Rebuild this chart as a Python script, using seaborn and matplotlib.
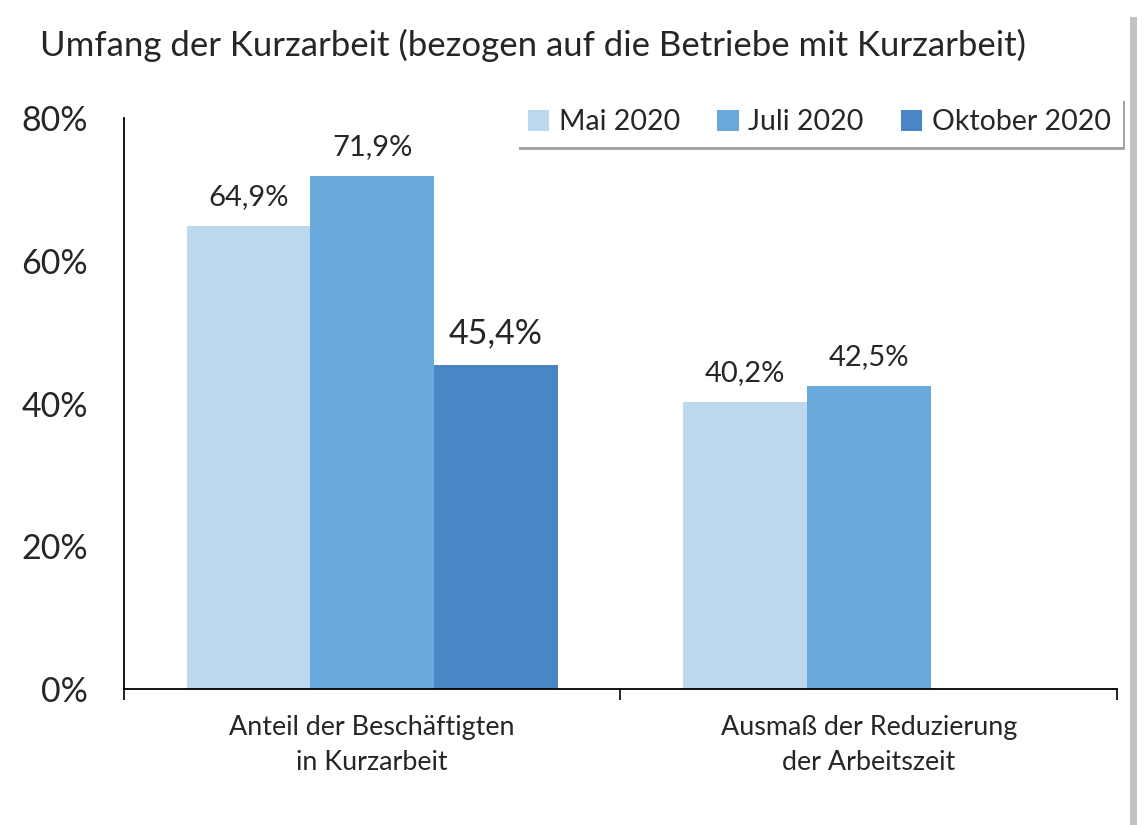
import numpy as np
import pandas as pd
import matplotlib
matplotlib.use("Agg")
import matplotlib.pyplot as plt
import seaborn as sns
from matplotlib.patches import Rectangle

# Data
categories = ["Anteil der Beschäftigten\nin Kurzarbeit", "Ausmaß der Reduzierung\nder Arbeitszeit"]
periods = ["Mai 2020", "Juli 2020", "Oktober 2020"]
mai_values = [64.9, 40.2]
juli_values = [71.9, 42.5]
oktober_values = [45.4, np.nan]
y_ticks = [0, 20, 40, 60, 80]
y_tick_labels = ["0%", "20%", "40%", "60%", "80%"]

colors = ["#BDD7EE", "#69A9DB", "#4A86C5"]

df = pd.DataFrame({
    "category": categories * 3,
    "period": [p for p in periods for _ in categories],
    "value": mai_values + juli_values + oktober_values,
})

sns.set_theme(style="white")
plt.rcParams["font.family"] = ["Lato", "DejaVu Sans"]

fig = plt.figure(figsize=(11.45, 8.25), dpi=100)
ax = fig.add_axes([0.1083, 0.1648, 0.8672, 0.6922])

sns.barplot(data=df, x="category", y="value", hue="period", hue_order=periods,
            palette=colors, width=0.747, saturation=1, linewidth=0, ax=ax, legend=True)

ax.set_ylim(0, 80)
ax.set_xlim(-0.5, 1.5)
ax.set_yticks(y_ticks)
ax.set_yticklabels(y_tick_labels, fontsize=24.5)
ax.set_xlabel("")
ax.set_ylabel("")
ax.tick_params(axis="y", length=0, pad=26)

# category boundary ticks on x axis
ax.set_xticks([-0.5, 0.5, 1.5])
ax.set_xticklabels([])
ax.tick_params(axis="x", direction="out", length=8, width=1.2, color="black", bottom=True)
for i, cat in enumerate(categories):
    ax.text(i, -3.6, cat, ha="center", va="top", fontsize=19.4, linespacing=1.5,
            transform=ax.transData)

sns.despine(ax=ax, top=True, right=True)
ax.spines["left"].set_color("black")
ax.spines["bottom"].set_color("black")
ax.spines["left"].set_linewidth(1.3)
ax.spines["bottom"].set_linewidth(1.3)

# value labels
for container in ax.containers:
    for bar in container:
        h = bar.get_height()
        if np.isnan(h):
            continue
        size = 24.5 if h == 45.4 else 21
        ax.text(bar.get_x() + bar.get_width() / 2, h + 2.2, f"{h:.1f}%".replace(".", ","),
                ha="center", va="bottom", fontsize=size)

leg = ax.legend(loc="upper right", bbox_to_anchor=(1.02, 1.06), ncol=3, fontsize=20.5,
                frameon=True, shadow=True, fancybox=False, handlelength=0.75,
                handleheight=0.75, handletextpad=0.35, columnspacing=1.3,
                borderpad=0.4, edgecolor="white")
leg.get_frame().set_linewidth(0)

fig.text(0.035, 0.945, "Umfang der Kurzarbeit (bezogen auf die Betriebe mit Kurzarbeit)",
         fontsize=25, ha="left", va="center")

# panel shadow at the right edge
fig.patches.append(Rectangle((0.987, 0.0), 0.006, 0.98, transform=fig.transFigure,
                             facecolor="#9a9a9a", edgecolor="none", alpha=0.6))

fig.savefig("out.png", dpi=100, facecolor="white")
